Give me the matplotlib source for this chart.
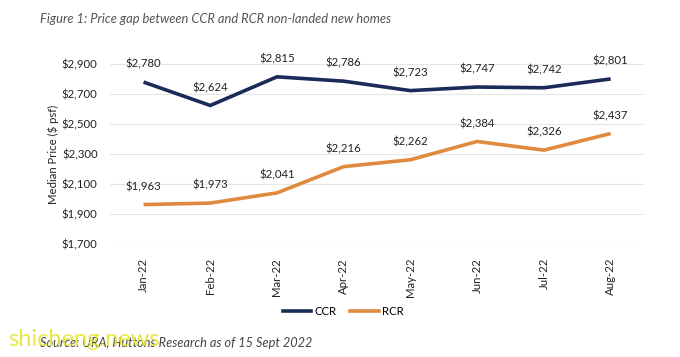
import matplotlib
matplotlib.use("Agg")
import matplotlib.pyplot as plt
from matplotlib.lines import Line2D

months = ["Jan-22", "Feb-22", "Mar-22", "Apr-22", "May-22", "Jun-22", "Jul-22", "Aug-22"]
ccr = [2780, 2624, 2815, 2786, 2723, 2747, 2742, 2801]
rcr = [1963, 1973, 2041, 2216, 2262, 2384, 2326, 2437]
yticks = [1700, 1900, 2100, 2300, 2500, 2700, 2900]

navy = "#1c2a59"
orange = "#e08a3f"
font = "Lato"

fig = plt.figure(figsize=(6.8, 3.57), dpi=100)
ax = fig.add_axes([0.162, 0.3165, 0.785, 0.504])
x = list(range(len(months)))
ax.plot(x, ccr, color=navy, lw=2.6, solid_capstyle="butt", zorder=3)
ax.plot(x, rcr, color=orange, lw=2.6, solid_capstyle="butt", zorder=3)
for series in (ccr, rcr):
    for xi, v in zip(x, series):
        ax.annotate(f"${v:,}", (xi, v), xytext=(0, 9), textcoords="offset points",
                    ha="center", va="bottom", fontsize=8.2, family=font, color="#222222",
                    annotation_clip=False)

ax.set_xlim(-0.5, len(months) - 0.5)
ax.set_ylim(1700, 2900)
ax.set_yticks(yticks)
ax.set_yticklabels([f"${v:,}" for v in yticks], family=font, fontsize=8.2, color="#222222")
ax.set_xticks(x)
ax.set_xticklabels(months, rotation=90, family=font, fontsize=8.2, color="#222222")
ax.tick_params(axis="y", length=0, pad=9)
ax.tick_params(axis="x", length=0, pad=10)
ax.grid(axis="y", color="#e6e6e6", lw=0.8)
ax.set_axisbelow(True)
for s in ax.spines.values():
    s.set_visible(False)
ax.set_ylabel("Median Price ($ psf)", family=font, fontsize=8.2, color="#222222", labelpad=2)

fig.text(0.059, 0.948, "Figure 1: Price gap between CCR and RCR non-landed new homes",
         family=font, style="italic", fontsize=9.3, color="#555555", va="center")

handles = [Line2D([], [], color=navy, lw=2.6), Line2D([], [], color=orange, lw=2.6)]
fig.legend(handles, ["CCR", "RCR"], loc="center", bbox_to_anchor=(0.505, 0.128),
           ncol=2, frameon=False, prop={"family": font, "size": 8.2},
           handlelength=2.5, handletextpad=0.3, columnspacing=1.2)

fig.text(0.059, 0.04, "Source: URA, Huttons Research as of 15 Sept 2022",
         family=font, style="italic", fontsize=9.2, color="#444444", va="center")
fig.text(0.012, 0.05, "shicheng.news", family=font, fontsize=17, color="#e6e633",
         va="center", alpha=0.9)

fig.savefig("out.png", dpi=100)
